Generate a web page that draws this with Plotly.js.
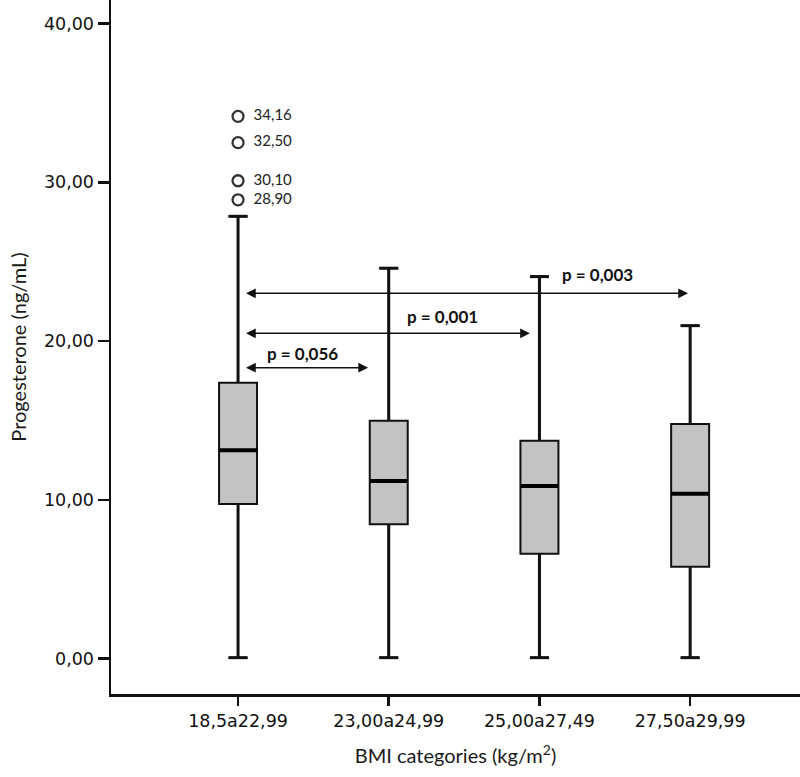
<!DOCTYPE html>
<html>
<head>
<meta charset="utf-8">
<script src="https://cdn.plot.ly/plotly-3.0.1.min.js"></script>
<style>html,body{margin:0;padding:0;background:#fff;}#chart{width:800px;height:777px;}</style>
</head>
<body>
<div id="chart"></div>
<script>
// Data
var categories = ['18,5a22,99', '23,00a24,99', '25,00a27,49', '27,50a29,99'];
var lowerFence = [0.05, 0.05, 0.05, 0.05];
var q1 = [9.73, 8.46, 6.60, 5.78];
var medians = [13.12, 11.18, 10.87, 10.38];
var q3 = [17.38, 14.98, 13.72, 14.78];
var upperFence = [27.86, 24.59, 24.06, 20.97];
var outlierValues = [34.16, 32.50, 30.10, 28.90];
var outlierLabels = ['34,16', '32,50', '30,10', '28,90'];
var outlierGroup = 0;
var yTickVals = [0, 10, 20, 30, 40];
var yTickText = ['0,00', '10,00', '20,00', '30,00', '40,00'];
// comparison arrows: from group, to group (arrow tip positions), level, label
var cmpFrom = [0.033, 0.033, 0.033];
var cmpTo = [0.863, 1.937, 2.986];
var cmpLevel = [18.32, 20.49, 23.01];
var cmpLabels = ['p = 0,056', 'p = 0,001', 'p = 0,003'];
var cmpLabelX = [0.43, 1.354, 2.386];
var cmpLabelY = [19.19, 21.52, 24.17];

var xIdx = categories.map(function (c, i) { return i; });
var boxHalf = 0.126;
var capHalf = 0.063;

var traces = [{
  type: 'box',
  x: xIdx,
  q1: q1,
  median: medians,
  q3: q3,
  lowerfence: lowerFence,
  upperfence: upperFence,
  width: boxHalf * 2,
  whiskerwidth: 0.5,
  fillcolor: '#c3c3c3',
  line: { color: '#111111', width: 2 },
  boxpoints: false,
  showlegend: false,
  hoverinfo: 'skip'
}, {
  type: 'scatter',
  mode: 'markers+text',
  x: outlierValues.map(function () { return outlierGroup; }),
  y: outlierValues,
  text: outlierLabels.map(function (t) { return '  ' + t; }),
  textposition: 'middle right',
  textfont: { family: 'Lato, sans-serif', size: 15, color: '#222' },
  marker: { symbol: 'circle-open', size: 11, color: '#333', line: { width: 2.3, color: '#333' } },
  showlegend: false,
  hoverinfo: 'skip',
  cliponaxis: false
}];

var shapes = [];
medians.forEach(function (m, i) {
  shapes.push({ type: 'line', xref: 'x', yref: 'y', x0: i - boxHalf, x1: i + boxHalf, y0: m, y1: m,
                line: { color: '#000', width: 4 } });
  // thicker whiskers and caps over the box trace's own ones
  shapes.push({ type: 'line', xref: 'x', yref: 'y', x0: i, x1: i, y0: q3[i], y1: upperFence[i],
                line: { color: '#111', width: 3 } });
  shapes.push({ type: 'line', xref: 'x', yref: 'y', x0: i, x1: i, y0: q1[i], y1: lowerFence[i],
                line: { color: '#111', width: 3 } });
  shapes.push({ type: 'line', xref: 'x', yref: 'y', x0: i - capHalf, x1: i + capHalf, y0: upperFence[i], y1: upperFence[i],
                line: { color: '#111', width: 3 } });
  shapes.push({ type: 'line', xref: 'x', yref: 'y', x0: i - capHalf, x1: i + capHalf, y0: lowerFence[i], y1: lowerFence[i],
                line: { color: '#111', width: 3 } });
});

var annotations = [];
cmpTo.forEach(function (t, i) {
  annotations.push({
    xref: 'x', yref: 'y', axref: 'x', ayref: 'y',
    x: t, y: cmpLevel[i], ax: cmpFrom[i], ay: cmpLevel[i],
    text: ' ', showarrow: true,
    arrowhead: 2, startarrowhead: 2, arrowside: 'end+start',
    arrowsize: 1.3, startarrowsize: 1.3, arrowwidth: 1.5, arrowcolor: '#111',
    standoff: 0, startstandoff: 0
  });
  annotations.push({
    xref: 'x', yref: 'y', x: cmpLabelX[i], y: cmpLabelY[i],
    text: '<b>' + cmpLabels[i] + '</b>', showarrow: false,
    font: { family: 'Lato, sans-serif', size: 17, color: '#111' }
  });
});

var layout = {
  width: 800, height: 777,
  margin: { l: 111, r: 0, t: 0, b: 83 },
  paper_bgcolor: '#fff', plot_bgcolor: '#fff',
  showlegend: false,
  xaxis: {
    range: [-0.843, 3.729],
    tickvals: xIdx, ticktext: categories,
    ticks: 'outside', ticklen: 9, tickwidth: 2.5, tickcolor: '#111',
    showline: true, linewidth: 2.5, linecolor: '#111',
    showgrid: false, zeroline: false,
    tickfont: { family: '"DejaVu Sans", sans-serif', size: 17.5, color: '#111' },
    title: { text: 'BMI categories (kg/m<sup>2</sup>)', standoff: 20,
             font: { family: 'Lato, sans-serif', size: 20, color: '#1a1a1a' } }
  },
  yaxis: {
    range: [-2.24, 41.49],
    tickvals: yTickVals, ticktext: yTickText,
    ticks: 'outside', ticklen: 11, tickwidth: 2.5, tickcolor: '#111',
    showline: true, linewidth: 2.5, linecolor: '#111',
    showgrid: false, zeroline: false,
    tickfont: { family: '"DejaVu Sans", sans-serif', size: 17.5, color: '#111' },
    title: { text: 'Progesterone (ng/mL)', standoff: 12,
             font: { family: 'Lato, sans-serif', size: 20, color: '#1a1a1a' } }
  },
  shapes: shapes,
  annotations: annotations
};

Plotly.newPlot('chart', traces, layout, { staticPlot: true, displayModeBar: false });
</script>
</body>
</html>
